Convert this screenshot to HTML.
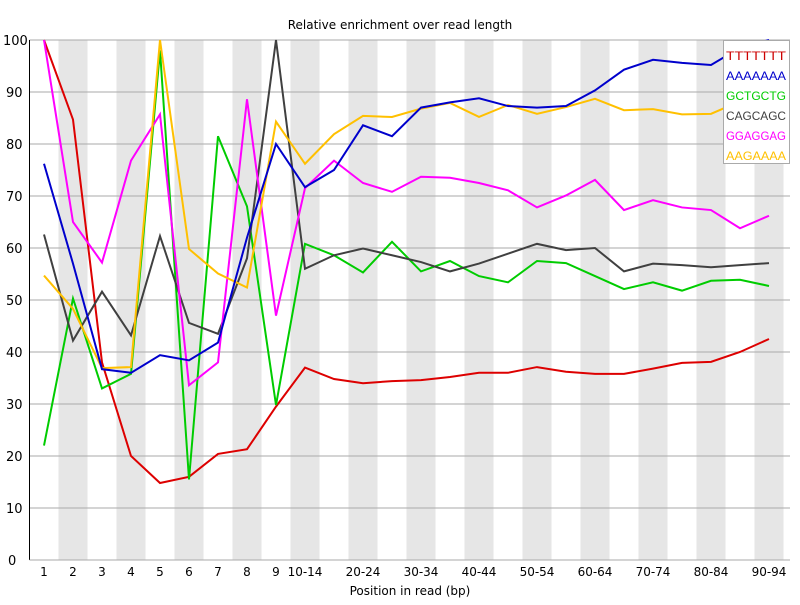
<!DOCTYPE html>
<html><head><meta charset="utf-8"><style>
body{margin:0;background:#fff}
svg text{font-family:"DejaVu Sans","Liberation Sans",sans-serif;}
</style></head><body>
<svg id="s" width="800" height="600" xmlns="http://www.w3.org/2000/svg"></svg>
<script>
const s=document.getElementById('s');
const L=29.5,T=40,B=560,W=29,R=790;
const y=v=>B-v*(B-T)/100, cx=i=>L+W*(i+0.5);
let h='';
for(let i=1;i<26;i+=2)h+=`<rect x="${L+W*i}" y="${T}" width="${W}" height="${B-T}" fill="#e6e6e6"/>`;
for(let v=10;v<=100;v+=10)h+=`<line x1="${L}" x2="${R}" y1="${y(v)}" y2="${y(v)}" stroke="#aaa" stroke-width="1"/>`;
for(let v=0;v<=100;v+=10)h+=`<text x="${v==100?3:(v==0?8:6)}" y="${y(v)+5}" font-size="13">${v}</text>`;
h+=`<line x1="${L}" x2="${L}" y1="${T}" y2="${B}" stroke="#000"/><line x1="${L}" x2="${R}" y1="${B}" y2="${B}" stroke="#aaa"/>`;
const labs=['1','2','3','4','5','6','7','8','9','10-14','','20-24','','30-34','','40-44','','50-54','','60-64','','70-74','','80-84','','90-94'];
labs.forEach((t,i)=>{if(t)h+=`<text x="${cx(i)}" y="576" font-size="12" text-anchor="middle">${t}</text>`});
h+=`<text x="400" y="29" font-size="12" text-anchor="middle">Relative enrichment over read length</text>`;
h+=`<text x="410" y="595" font-size="12" text-anchor="middle">Position in read (bp)</text>`;
const D=[
['#dd0000',[100,84.7,38,20,14.8,16,20.4,21.3,29.5,37,34.8,34,34.4,34.6,35.2,36,36,37.1,36.2,35.8,35.8,36.8,37.9,38.1,40,42.5]],
['#00cc00',[22,50.3,33,35.8,98,15.5,81.5,68,29.8,60.8,58.6,55.3,61.2,55.5,57.5,54.6,53.4,57.5,57.1,54.6,52.1,53.4,51.8,53.7,53.9,52.7]],
['#404040',[62.6,42.2,51.6,43.2,62.3,45.6,43.5,58,100,56,58.6,59.9,58.6,57.3,55.5,57,58.9,60.8,59.6,60,55.5,57,56.7,56.3,56.7,57.1]],
['#ff00ff',[100,65,57.2,76.8,85.7,33.6,38,88.6,47,71.5,76.8,72.5,70.8,73.7,73.5,72.5,71.1,67.8,70.1,73.1,67.3,69.2,67.8,67.3,63.8,66.2]],
['#ffc000',[54.7,48.3,36.9,37.1,100,59.8,55.1,52.4,84.3,76.2,81.9,85.4,85.2,86.8,87.9,85.2,87.5,85.8,87.1,88.7,86.5,86.7,85.7,85.8,88.2,88.5]],
['#0000cc',[76.2,57,36.7,36,39.4,38.4,41.8,62,80,71.7,75,83.6,81.5,87,88,88.8,87.3,87,87.3,90.3,94.3,96.2,95.6,95.2,98.5,100]]
];
D.forEach(([c,d])=>{h+=`<polyline fill="none" stroke="${c}" stroke-width="2" points="${d.map((v,i)=>cx(i)+','+y(v)).join(' ')}"/>`});
h+=`<rect x="723.5" y="40.5" width="66" height="123" fill="#fff" stroke="#aaa"/>`;
[['TTTTTTT','#cc0000'],['AAAAAAA','#0000cc'],['GCTGCTG','#00cc00'],['CAGCAGC','#404040'],['GGAGGAG','#ff00ff'],['AAGAAAA','#ffc000']].forEach(([t,c],i)=>{
h+=`<text x="726" y="${60+i*20}" font-size="12" fill="${c}" style="font-family:'Liberation Sans',sans-serif" textLength="60" lengthAdjust="spacingAndGlyphs">${t}</text>`});
s.innerHTML=h;
</script>
</body></html>
